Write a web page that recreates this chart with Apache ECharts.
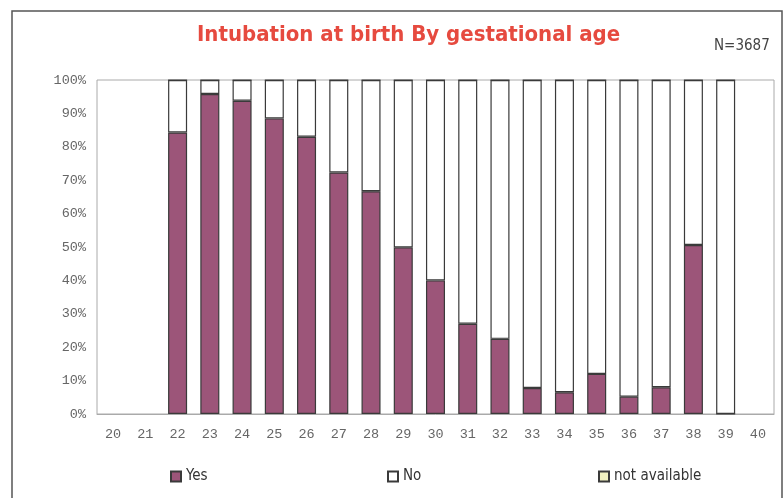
<!DOCTYPE html>
<html><head><meta charset="utf-8">
<script src="https://cdn.jsdelivr.net/npm/echarts@6/dist/echarts.min.js"></script>
<style>html,body{margin:0;padding:0;background:#fff}#c{width:784px;height:498px}</style>
</head><body><div id="c"></div>
<script>
const categories = ['20','21','22','23','24','25','26','27','28','29','30','31','32','33','34','35','36','37','38','39','40'];
const yesValues = [null,null,84.3,95.8,93.8,88.5,83,72.3,66.7,49.9,40,27,22.5,7.8,6.5,12,5.2,8,50.6,0,null];
const noValues = [null,null,15.7,4.2,6.2,11.5,17,27.7,33.3,50.1,60,73,77.5,92.2,93.5,88,94.8,92,49.4,100,null];
const naValues = [null,null,0,0,0,0,0,0,0,0,0,0,0,0,0,0,0,0,0,0,null];
const yTicks = [0,10,20,30,40,50,60,70,80,90,100];

const chart = echarts.init(document.getElementById('c'));
const lbl = {fontFamily:'Liberation Mono', fontSize:13.5, color:'#666'};
const legendBase = {top:464, itemWidth:10, itemHeight:10, itemGap:4, icon:'rect',
  textStyle:{fontFamily:'DejaVu Sans Condensed', fontSize:15, color:'#333'}};
chart.setOption({
  animation:false,
  title:[
    {text:'Intubation at birth By gestational age', left:192, top:19,
     textStyle:{fontFamily:'DejaVu Sans Condensed', fontWeight:'bold', fontSize:22, color:'#e64a3f'}},
    {text:'N=3687', left:709, top:34, textStyle:{fontFamily:'DejaVu Sans Condensed', fontWeight:'normal', fontSize:15, color:'#444'}}
  ],
  graphic:[{type:'rect', shape:{x:12, y:11, width:770, height:495}, style:{fill:'none', stroke:'#555', lineWidth:1.5}, silent:true}],
  legend:[
    Object.assign({}, legendBase, {left:165, data:['Yes']}),
    Object.assign({}, legendBase, {left:382, data:['No']}),
    Object.assign({}, legendBase, {left:593, data:['not available']})
  ],
  grid:{left:97, right:10, top:80, bottom:84, show:true, borderColor:'#aaa', borderWidth:1},
  xAxis:{type:'category', data:categories, axisTick:{show:false}, axisLine:{lineStyle:{color:'#aaa'}},
    axisLabel:Object.assign({margin:13}, lbl)},
  yAxis:{type:'value', min:0, max:100, interval:10, splitLine:{show:false},
    axisLine:{show:false}, axisTick:{show:false},
    axisLabel:Object.assign({margin:11, formatter: v => yTicks.includes(v) ? v + '%' : ''}, lbl)},
  series:[
    {name:'Yes', type:'bar', stack:'s', data:yesValues, barWidth:'59%',
     itemStyle:{color:'#9c5579', borderColor:'#3a3a3a', borderWidth:1.2}},
    {name:'No', type:'bar', stack:'s', data:noValues,
     itemStyle:{color:'#ffffff', borderColor:'#3a3a3a', borderWidth:1.2}},
    {name:'not available', type:'bar', stack:'s', data:naValues,
     itemStyle:{color:'#f0f0c0', borderColor:'#3a3a3a', borderWidth:1.2}}
  ]
});
</script></body></html>
